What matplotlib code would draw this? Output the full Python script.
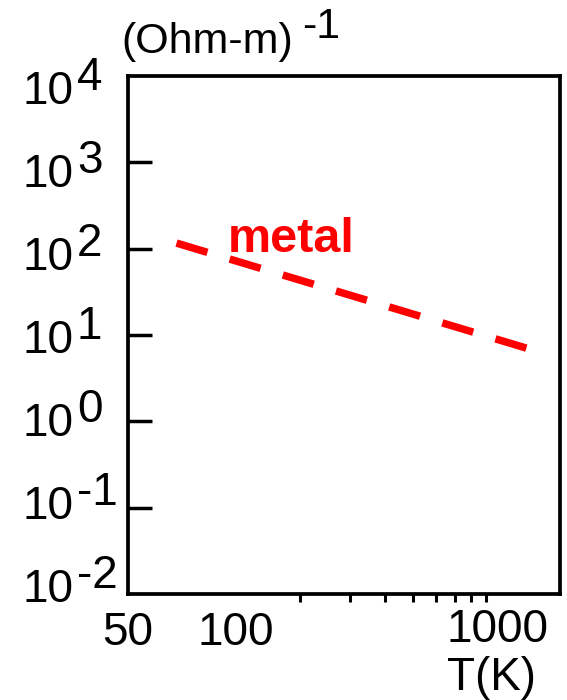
import matplotlib
matplotlib.use("Agg")
import matplotlib.pyplot as plt
import numpy as np

# ---- data ----
temperature_K = [74, 1277]           # metal line endpoints (T in K)
conductivity = [116, 6.9]            # (Ohm-m)^-1
y_exponents = [4, 3, 2, 1, 0, -1, -2]
x_label_values = [50, 100, 1000]
x_minor_ticks = [200, 300, 400, 500, 600, 700, 800, 900]
line_label = "metal"

W, H, DPI = 567, 700, 100
plt.rcParams['font.family'] = ['Liberation Sans', 'DejaVu Sans']

fig = plt.figure(figsize=(W / DPI, H / DPI), dpi=DPI)
ax = fig.add_axes([128 / W, 1 - 594 / H, (560 - 128) / W, (594 - 76) / H])
ax.set_xscale('log')
ax.set_yscale('log')
ax.set_xlim(50, 1640)
ax.set_ylim(1e-2, 1e4)

for s in ax.spines.values():
    s.set_linewidth(2.7)
    s.set_color('black')

# y ticks: inward, no labels
ax.set_yticks([10.0 ** e for e in y_exponents if -2 < e < 4])
ax.set_yticks([], minor=True)
ax.yaxis.set_tick_params(which='major', direction='in', length=17, width=2.5,
                         labelleft=False)
# x ticks: only minor ticks, outward
ax.set_xticks([])
ax.set_xticks(x_minor_ticks, minor=True)
ax.xaxis.set_tick_params(which='minor', direction='out', length=6, width=2.2,
                         labelbottom=False)
ax.xaxis.set_tick_params(which='major', labelbottom=False, length=0)

# metal line
lw = 5.4
ax.plot(temperature_K, conductivity, color='#ff0000', lw=lw,
        linestyle=(0, (4.3, 3.1)), dash_capstyle='butt', solid_capstyle='butt')
ax.annotate(line_label, xy=(112, 91.5), xycoords='data', color='#ff0000',
            fontsize=35, fontweight='bold', ha='left', va='baseline')

# y labels 10^e
fs = 33
for e in y_exponents:
    off = 11 - (4 - e) * 3.2           # label centre offset below tick (px)
    base_dy = -(off + 16.5)            # baseline of "10"
    ax.annotate("10", xy=(0, 10.0 ** e), xycoords=('axes fraction', 'data'),
                xytext=(-55, base_dy), textcoords='offset pixels',
                ha='right', va='baseline', fontsize=fs, annotation_clip=False)
    ax.annotate(str(e), xy=(0, 10.0 ** e), xycoords=('axes fraction', 'data'),
                xytext=(-51, base_dy + 14), textcoords='offset pixels',
                ha='left', va='baseline', fontsize=fs, annotation_clip=False)

# x labels
x_offsets = {50: (0, -51), 100: (22, -51), 1000: (-1, -48)}
for v in x_label_values:
    dx, dy = x_offsets[v]
    ax.annotate(str(v), xy=(v, 0), xycoords=('data', 'axes fraction'),
                xytext=(dx, dy), textcoords='offset pixels',
                ha='center', va='baseline', fontsize=fs, annotation_clip=False)

# axis titles
fig.text(121 / W, 1 - 53 / H, "(Ohm-m)", fontsize=31, ha='left', va='baseline')
fig.text(302 / W, 1 - 38 / H, "-1", fontsize=31, ha='left', va='baseline')
fig.text(447 / W, 1 - 690 / H, "T(K)", fontsize=33, ha='left', va='baseline')

fig.savefig("out.png", dpi=DPI)
